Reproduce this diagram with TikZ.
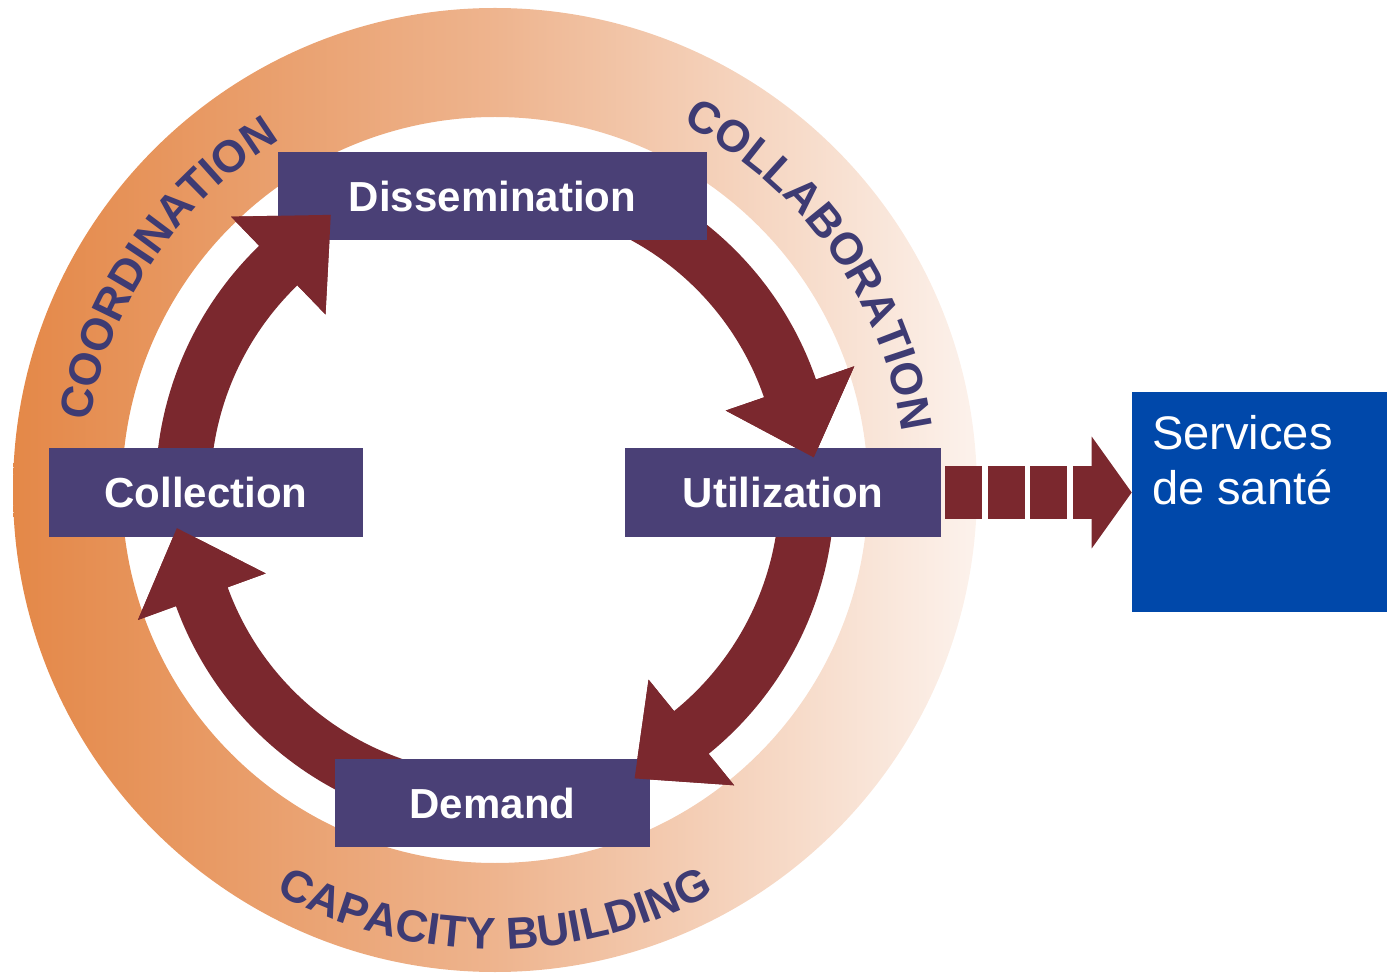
\documentclass[tikz,border=0pt]{standalone}
\usepackage{fontspec}
\setmainfont{Liberation Sans}
\usetikzlibrary{arrows.meta,calc,decorations.text,positioning}

\definecolor{ringorange}{RGB}{228,136,72}
\definecolor{ringmid}{RGB}{238,180,142}
\definecolor{ringpale}{RGB}{252,242,236}
\definecolor{arrowred}{RGB}{123,40,46}
\definecolor{boxpurple}{RGB}{74,64,118}
\definecolor{ringtext}{RGB}{62,59,115}
\definecolor{santeblue}{RGB}{0,72,170}

\newcommand\ringfont{\fontsize{25.5}{30}\selectfont\bfseries}

\begin{document}
\begin{tikzpicture}[
    x=0.02cm, y=0.02cm,
    stagebox/.style={
       rectangle,
       fill=boxpurple,
       text=white,
       inner sep=0pt,
       minimum height=1.77cm,
       font=\fontsize{23.9}{28}\selectfont\bfseries},
    cyclearrow/.style={fill=arrowred},
    ringlabel/.style={
       decorate,
       decoration={text along path, text align=center, text color=ringtext, text={|\ringfont|#1}}},
    santebox/.style={
       rectangle,
       fill=santeblue,
       inner sep=0pt,
       minimum width=5.1cm,
       minimum height=4.4cm},
    santetext/.style={
       text=white,
       align=left,
       inner sep=0pt,
       font=\fontsize{26.8}{31.3}\selectfont},
    linkarrow/.style={
       draw=arrowred,
       line width=1.06cm,
       dash pattern=on 0.74cm off 0.11cm,
       shorten <=0.08cm,
       -{Triangle[length=0.8cm,width=2.24cm,line width=0pt]}}
    ]
    \useasboundingbox (0,0) rectangle (1387,975);
    \coordinate (ctr) at (495,485);

    % outer ring
    \shade[even odd rule, left color=ringorange, right color=ringpale, middle color=ringmid]
        (ctr) circle[radius=482] (ctr) circle[radius=373];
    \path[ringlabel=COORDINATION] (ctr) ++(186:411) arc[start angle=186, end angle=106, radius=411];
    \path[ringlabel=COLLABORATION] (ctr) ++(75.5:411) arc[start angle=75.5, end angle=-4.5, radius=411];
    \path[ringlabel=CAPACITY BUILDING] (ctr) ++(225:459) arc[start angle=225, end angle=315, radius=459];

    % cycle arrows (start angle/head angle)
    \foreach \s/\e in {180/134, 80/19, 0/-51, 270/200}
      \fill[cyclearrow] (ctr) ++(\s:284.5) arc[start angle=\s, end angle=\e, radius=284.5]
          -- ($(ctr)+(\e:244)$) -- ($(ctr)+(\e:312)+(\e-90:73)$) -- ($(ctr)+(\e:380)$)
          -- ($(ctr)+(\e:339.5)$) arc[start angle=\e, end angle=\s, radius=339.5] -- cycle;

    \node[stagebox, minimum width=8.58cm] (dissem) at (492.5,779) {Dissemination};
    \node[stagebox, minimum width=6.28cm] (collect) at (206,482.5) {Collection};
    \node[stagebox, minimum width=6.32cm] (util) at (783,482.5) {Utilization};
    \node[stagebox, minimum width=6.3cm] (demand) at (492.5,172) {Demand};

    % heads again, they lie over the boxes
    \foreach \e in {134, 19, -51, 200}
      \fill[cyclearrow] ($(ctr)+(\e:244)$) -- ($(ctr)+(\e:312)+(\e-90:73)$) -- ($(ctr)+(\e:380)$) -- cycle;

    \node[santebox] (sante) at (1259.5,473) {};
    \node[santetext, anchor=north west] (santelabel) at ([xshift=0.4cm,yshift=-0.46cm]sante.north west) {Services\\de santé};

    \draw[linkarrow] (util.east) -- (util.east -| sante.west);
\end{tikzpicture}
\end{document}
